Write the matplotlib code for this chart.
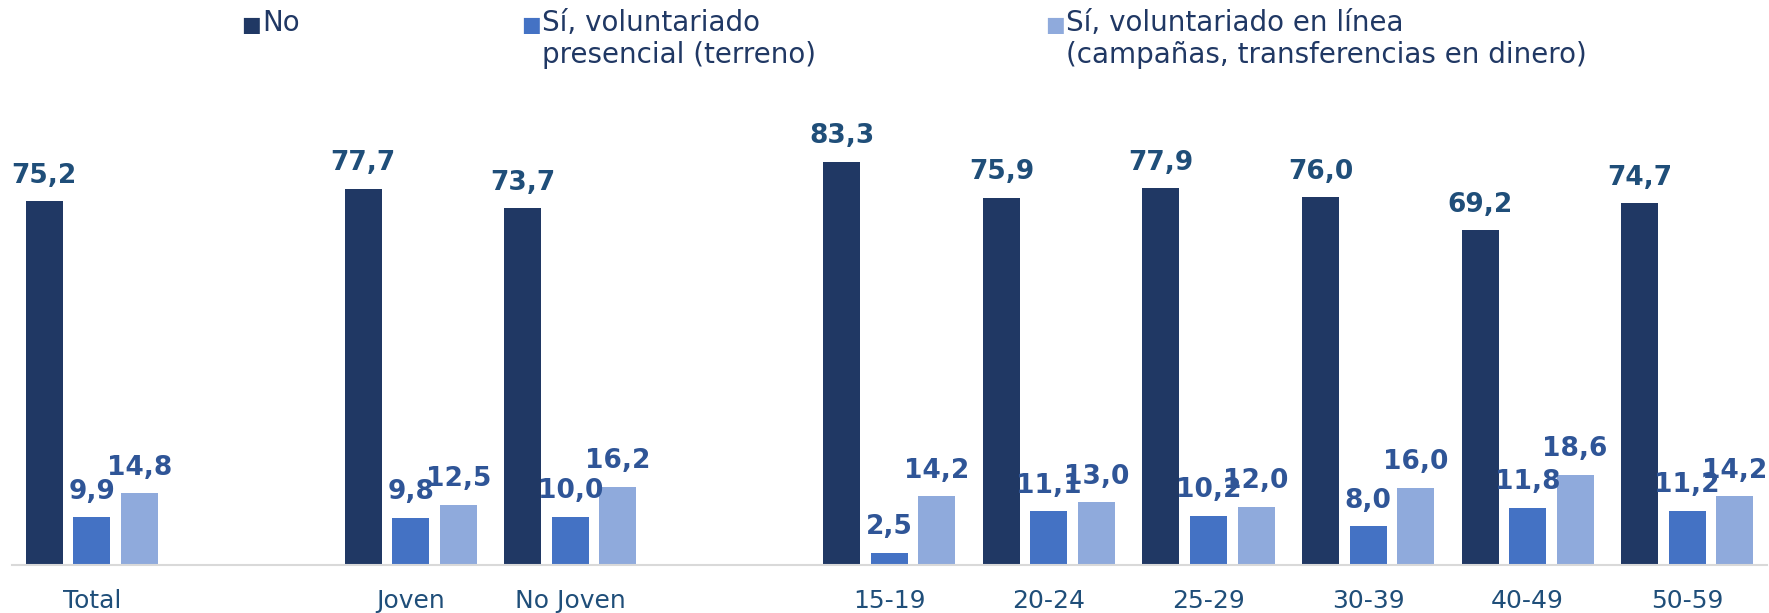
import numpy as np
import matplotlib.pyplot as plt

# datos
groups = [["Total"], ["Joven", "No Joven"],
          ["15-19", "20-24", "25-29", "30-39", "40-49", "50-59"]]
series_names = ["No", "Sí, voluntariado\npresencial (terreno)",
                "Sí, voluntariado en línea\n(campañas, transferencias en dinero)"]
no_vals = [75.2, 77.7, 73.7, 83.3, 75.9, 77.9, 76.0, 69.2, 74.7]
presencial = [9.9, 9.8, 10.0, 2.5, 11.1, 10.2, 8.0, 11.8, 11.2]
en_linea = [14.8, 12.5, 16.2, 14.2, 13.0, 12.0, 16.0, 18.6, 14.2]

colors = ["#203864", "#4472C4", "#8FAADC"]
label_colors = ["#1F4E79", "#2F5597", "#2F5597"]

# posiciones: un espacio vacío entre grupos
cats, pos = [], []
p = 0
for g in groups:
    for c in g:
        cats.append(c)
        pos.append(p)
        p += 1
    p += 1
pos = np.array(pos)

fig = plt.figure(figsize=(17.69, 6.13), dpi=100)
ax = fig.add_axes([0.0068, 0.0783, 0.992, 0.75])

width = 0.232
step = 0.298
for i, vals in enumerate([no_vals, presencial, en_linea]):
    bars = ax.bar(pos + (i - 1) * step, vals, width, color=colors[i], zorder=2)
    for b, v in zip(bars, vals):
        ax.annotate(f"{v:.1f}".replace(".", ","),
                    (b.get_x() + b.get_width() / 2, b.get_height()),
                    xytext=(0, 9), textcoords="offset points",
                    ha="center", va="bottom", fontsize=19, fontweight="bold",
                    color=label_colors[i])

ax.set_xlim(-0.5, pos[-1] + 0.5)
ax.set_ylim(0, 95)
ax.set_xticks(pos)
ax.set_xticklabels(cats, fontsize=18, color="#1F4E79")
ax.tick_params(axis="x", length=0, pad=17)
ax.set_yticks([])
for s in ["top", "right", "left"]:
    ax.spines[s].set_visible(False)
ax.spines["bottom"].set_color("#D9D9D9")
ax.spines["bottom"].set_linewidth(1.5)

# leyenda manual
leg_x = [241, 521, 1045]
for i, name in enumerate(series_names):
    fig.text(leg_x[i] / 1769, 1 - 25 / 613, "■", color=colors[i], fontsize=15,
             ha="left", va="center")
    fig.text((leg_x[i] + 21) / 1769, 1 - 9 / 613, name, color="#203864",
             fontsize=20, ha="left", va="top", linespacing=1.2)

fig.savefig("out.png", dpi=100)
